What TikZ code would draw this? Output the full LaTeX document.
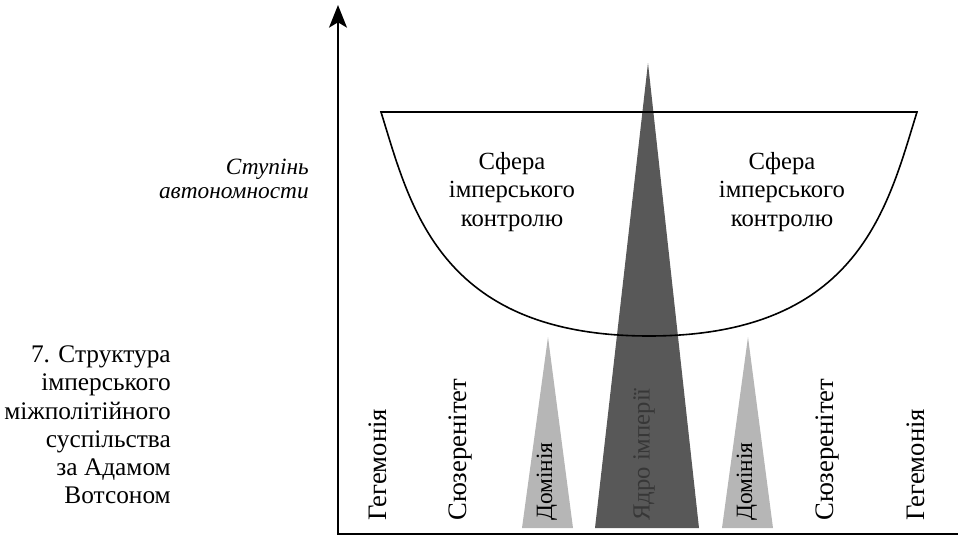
\documentclass[tikz,border=0pt]{standalone}
\usepackage{fontspec}
\setmainfont{Liberation Serif}
\newfontfamily\cyrserif{Liberation Serif}
\usetikzlibrary{arrows.meta}
\definecolor{coregray}{RGB}{88,88,88}
\definecolor{domgray}{RGB}{182,182,182}
\definecolor{coretext}{RGB}{55,55,55}
\begin{document}
\begin{tikzpicture}[x=0.75pt,y=-0.75pt,
    axis/.style={line width=1.3pt},
    bowl/.style={line width=1.2pt},
    lbl/.style={font=\cyrserif\fontsize{18.5}{21}\selectfont,inner sep=0pt},
    vlbl/.style={lbl,rotate=90,anchor=west,font=\cyrserif\fontsize{20}{21}\selectfont},
    dlbl/.style={vlbl,font=\cyrserif\fontsize{17.5}{21}\selectfont},
    sphere/.style={lbl,align=center,font=\cyrserif\fontsize{18.5}{21.5}\selectfont}]
    \useasboundingbox (0,0) rectangle (958,539);
    % axes
    \coordinate (O) at (338,534);
    \coordinate (Ytip) at (338,5);
    \coordinate (Xend) at (958,534);
    % triangles
    \fill[domgray] (522,528) coordinate (dl1) -- (548,337) coordinate (dlA) -- (573,528) coordinate (dl2) -- cycle;
    \fill[domgray] (722,528) coordinate (dr1) -- (748,337) coordinate (drA) -- (773,528) coordinate (dr2) -- cycle;
    \fill[coregray] (595,528) coordinate (c1) -- (648,63) coordinate (cA) -- (699,528) coordinate (c2) -- cycle;
    % sphere of imperial control
    \coordinate (BL) at (381,112);
    \coordinate (BR) at (917,112);
    \coordinate (Bbot) at (649,336);
    \draw[bowl] (BL) -- (BR) .. controls (888,205) and (860,336) .. (Bbot)
        .. controls (438,336) and (410,205) .. (BL) -- cycle;
    \draw[axis,-{Stealth[length=17pt,width=13.5pt,inset=4pt]}] (Xend) -- (O) -- (Ytip);
    % labels
    \node[sphere] (sphL) at (512,192) {Сфера\\імперського\\контролю};
    \node[sphere] (sphR) at (782,192) {Сфера\\імперського\\контролю};
    \node[lbl,anchor=east,align=right,font=\cyrserif\itshape\fontsize{17.5}{18}\selectfont] (aut) at (309,179) {Ступінь\\автономности};
    \node[lbl,anchor=east,align=right,font=\cyrserif\fontsize{19}{21.2}\selectfont] (cap) at (171,425) {7. Структура\\імперського\\міжполітійного\\суспільства\\за Адамом\\Вотсоном};
    \node[vlbl] (hegL) at (378,521) {Гегемонія};
    \node[vlbl] (suzL) at (461,521) {Сюзеренітет};
    \node[dlbl] (domL) at (547,521) {Домінія};
    \node[vlbl,text=coretext,font=\cyrserif\fontsize{18.5}{21}\selectfont] (core) at (644,521) {Ядро імперії};
    \node[dlbl] (domR) at (747,521) {Домінія};
    \node[vlbl] (suzR) at (828,521) {Сюзеренітет};
    \node[vlbl] (hegR) at (916,521) {Гегемонія};
\end{tikzpicture}
\end{document}
